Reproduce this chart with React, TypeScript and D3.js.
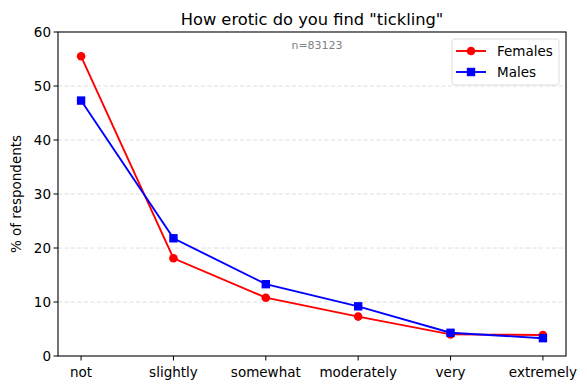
import React from "react";
import * as d3 from "d3";

const categories = ["not", "slightly", "somewhat", "moderately", "very", "extremely"];
const females = [55.5, 18.1, 10.8, 7.3, 4.0, 3.9];
const males = [47.3, 21.8, 13.3, 9.2, 4.3, 3.3];
const yTicks = [0, 10, 20, 30, 40, 50, 60];
const title = 'How erotic do you find "tickling"';
const nLabel = "n=83123";

const W = 587, H = 390;
const M = { left: 58, right: 566, top: 32, bottom: 356 };

export default function App() {
  const x = d3.scaleLinear().domain([-0.25, categories.length - 0.75]).range([M.left, M.right]);
  const y = d3.scaleLinear().domain([0, 60]).range([M.bottom, M.top]);
  const line = d3.line<number>().x((_, i) => x(i)).y((d) => y(d));
  const font = "DejaVu Sans, sans-serif";
  return (
    <svg width={W} height={H} style={{ position: "absolute", left: 0, top: 0, fontFamily: font }}>
      <rect width={W} height={H} fill="#fff" />
      {yTicks.slice(1, -1).map((t) => (
        <line key={t} x1={M.left} x2={M.right} y1={y(t)} y2={y(t)} stroke="#d6d6d6" strokeWidth={0.8} strokeDasharray="4,2.5" />
      ))}
      <path d={line(females) || ""} fill="none" stroke="#ff0000" strokeWidth={1.9} />
      {females.map((v, i) => (
        <circle key={i} cx={x(i)} cy={y(v)} r={4.3} fill="#ff0000" />
      ))}
      <path d={line(males) || ""} fill="none" stroke="#0000ff" strokeWidth={1.9} />
      {males.map((v, i) => (
        <rect key={i} x={x(i) - 4.2} y={y(v) - 4.2} width={8.4} height={8.4} fill="#0000ff" />
      ))}
      <rect x={M.left} y={M.top} width={M.right - M.left} height={M.bottom - M.top} fill="none" stroke="#000" strokeWidth={1.1} />
      {yTicks.map((t) => (
        <g key={t}>
          <line x1={M.left - 4.5} x2={M.left} y1={y(t)} y2={y(t)} stroke="#000" />
          <text x={M.left - 7} y={y(t)} dy="0.35em" textAnchor="end" fontSize={13.5}>{t}</text>
        </g>
      ))}
      {categories.map((c, i) => (
        <g key={c}>
          <line x1={x(i)} x2={x(i)} y1={M.bottom} y2={M.bottom + 4.5} stroke="#000" />
          <text x={x(i)} y={M.bottom + 21} textAnchor="middle" fontSize={13.5}>{c}</text>
        </g>
      ))}
      <text transform={`translate(21,${(M.top + M.bottom) / 2}) rotate(-90)`} textAnchor="middle" fontSize={13.5}>% of respondents</text>
      <text x={(M.left + M.right) / 2} y={25} textAnchor="middle" fontSize={16.3}>{title}</text>
      <text x={(M.left + M.right) / 2 + 5} y={49} textAnchor="middle" fontSize={11} fill="#808080">{nLabel}</text>
      <g>
        <rect x={452} y={39} width={107} height={46} rx={3} fill="#fff" fillOpacity={0.8} stroke="#ddd" />
        <line x1={456} x2={486} y1={51} y2={51} stroke="#ff0000" strokeWidth={1.9} />
        <circle cx={471} cy={51} r={4.3} fill="#ff0000" />
        <text x={497} y={51} dy="0.35em" fontSize={13.5}>Females</text>
        <line x1={456} x2={486} y1={72} y2={72} stroke="#0000ff" strokeWidth={1.9} />
        <rect x={466.8} y={67.8} width={8.4} height={8.4} fill="#0000ff" />
        <text x={497} y={72} dy="0.35em" fontSize={13.5}>Males</text>
      </g>
    </svg>
  );
}
